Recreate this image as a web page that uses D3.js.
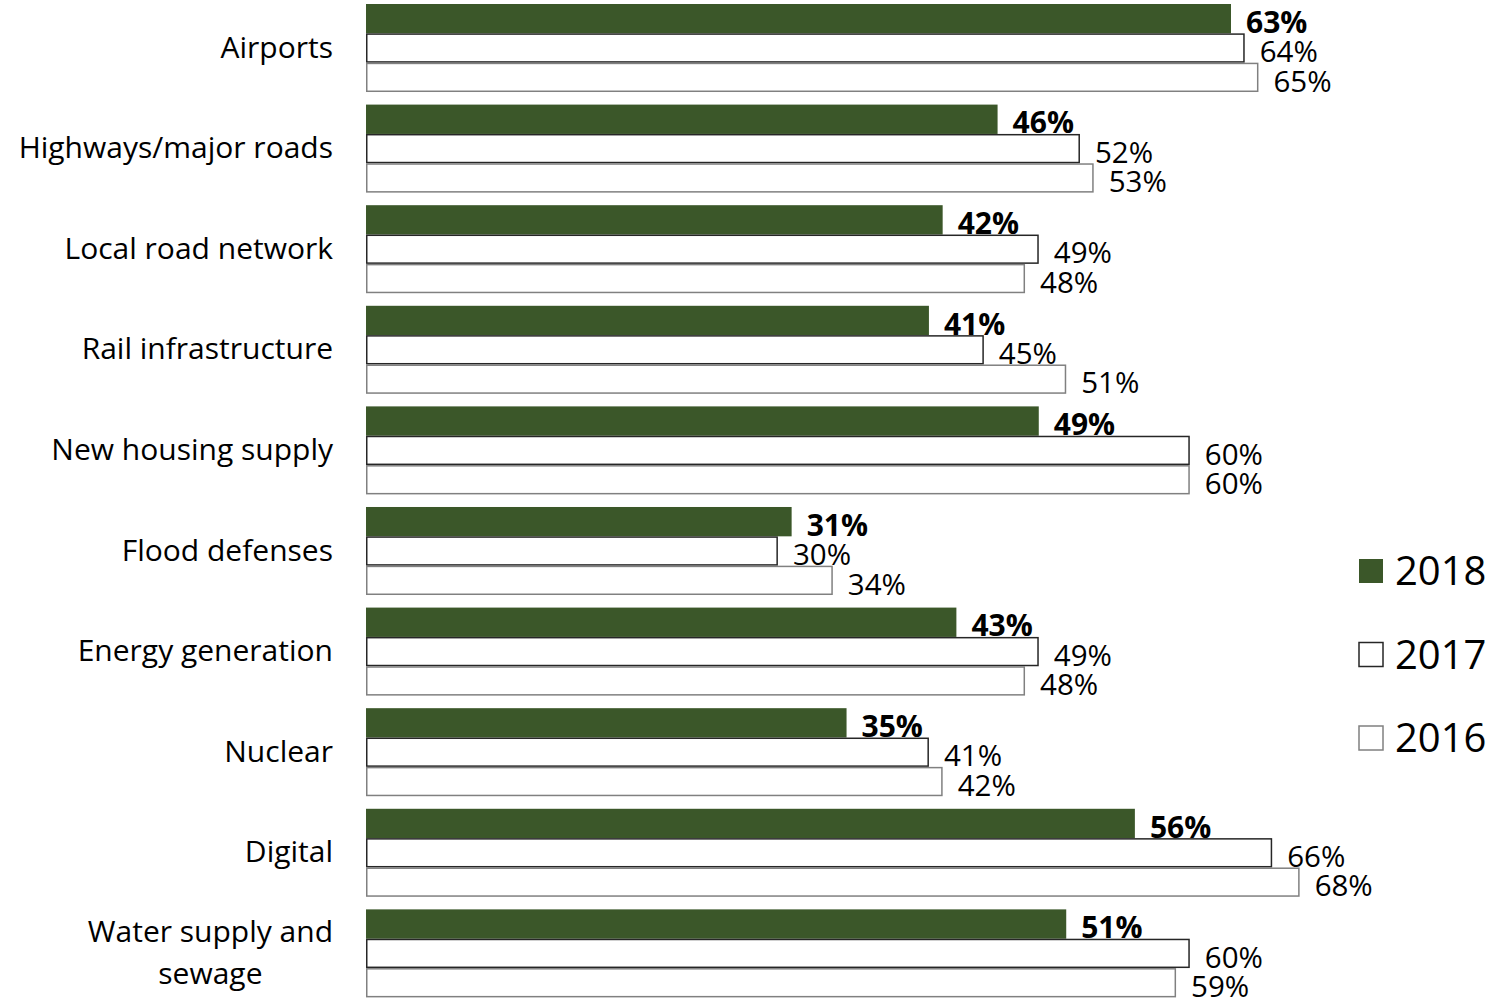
<!DOCTYPE html>
<html><head><meta charset="utf-8">
<script src="https://cdn.jsdelivr.net/npm/d3@7"></script>
<style>html,body{margin:0;padding:0;background:#fff;} svg{display:block;}</style>
</head><body>
<svg id="chart" width="1499" height="998"></svg>
<script>
const categories = ["Airports","Highways/major roads","Local road network","Rail infrastructure","New housing supply","Flood defenses","Energy generation","Nuclear","Digital","Water supply and sewage"];
const years = ["2018","2017","2016"];
const values2018 = [63,46,42,41,49,31,43,35,56,51];
const values2017 = [64,52,49,45,60,30,49,41,66,60];
const values2016 = [65,53,48,51,60,34,48,42,68,59];
const series = [values2018, values2017, values2016];

const font = "'Open Sans', 'Segoe UI', sans-serif";
const fills = {"2018":"#3b5729","2017":"#ffffff","2016":"#ffffff"};
const strokes = {"2018":"#3b5729","2017":"#262626","2016":"#808080"};

const svg = d3.select("#chart");
const x = d3.scaleLinear().domain([0,100]).range([366, 366+1373]);
const y = d3.scaleBand().domain(categories).range([4, 997.4]).paddingInner(0.125).paddingOuter(0);
const yInner = d3.scaleBand().domain(years).range([0, y.bandwidth()]);

const g = svg.append("g");
categories.forEach((c, i) => {
  const grp = g.append("g").attr("transform", `translate(0,${y(c)})`);
  years.forEach((yr, k) => {
    const v = series[k][i];
    const y0 = yInner(yr), h = yInner.bandwidth();
    if (yr === "2018") {
      grp.append("rect").attr("x", x(0)).attr("y", y0).attr("width", x(v)-x(0)).attr("height", h)
        .attr("fill", fills[yr]);
    } else {
      grp.append("rect").attr("x", x(0)+0.75).attr("y", y0+0.75).attr("width", x(v)-x(0)-1.5).attr("height", h-1.5)
        .attr("fill", fills[yr]).attr("stroke", strokes[yr]).attr("stroke-width", 1.5);
    }
    grp.append("text").attr("x", x(v)+15).attr("y", y0+h-0.5)
      .attr("font-family", font).attr("font-size", yr === "2018" ? 30 : 29.5)
      .attr("font-weight", yr === "2018" ? "bold" : "normal")
      .attr("fill", "#000").text(v + "%");
  });
});

// category axis labels
const axis = d3.axisLeft(y).tickSize(0).tickPadding(33);
const ag = svg.append("g").attr("transform", `translate(${x(0)},0)`).call(axis);
ag.select(".domain").remove();
ag.selectAll("text").attr("font-family", font).attr("font-size", 30).attr("fill", "#000")
  .each(function(d){
    const t = d3.select(this);
    if (d === "Water supply and sewage") {
      t.text(null);
      t.append("tspan").attr("x", -33).attr("dy", "-0.38em").text("Water supply and");
      t.append("tspan").attr("x", -33).attr("dy", "1.4em").attr("text-anchor","middle").text("sewage");
    }
  });
ag.selectAll("text").filter(d => d === "Water supply and sewage").each(function(){
  const spans = d3.select(this).selectAll("tspan").nodes();
  const w = spans[0].getComputedTextLength();
  d3.select(spans[1]).attr("x", -33 - w/2);
});

// legend
const legendY = d3.scalePoint().domain(years).range([571, 738]);
const lg = svg.append("g");
years.forEach(yr => {
  const cy = legendY(yr);
  lg.append("rect").attr("x", 1359).attr("y", cy-12).attr("width", 24).attr("height", 24)
    .attr("fill", fills[yr]).attr("stroke", strokes[yr]).attr("stroke-width", yr==="2018"?0:1.5);
  lg.append("text").attr("x", 1395).attr("y", cy).attr("dy", "0.35em")
    .attr("font-family", font).attr("font-size", 40).attr("fill", "#000").text(yr);
});
</script>
</body></html>
